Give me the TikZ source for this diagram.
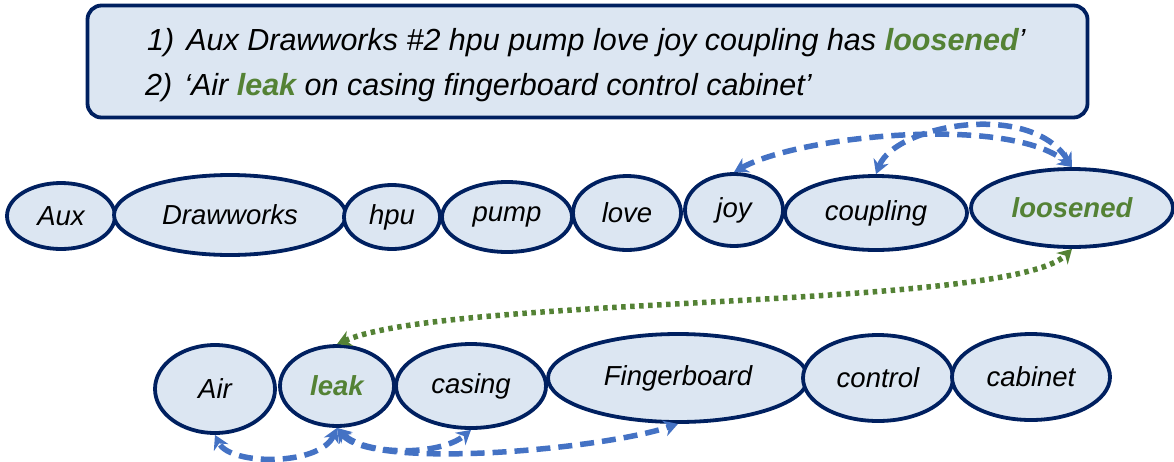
\documentclass[tikz,border=0pt]{standalone}
\usepackage{fontspec}
\setmainfont{Liberation Sans}
\usetikzlibrary{arrows.meta,shapes.geometric}
\definecolor{boxfill}{HTML}{DCE6F2}
\definecolor{navy}{HTML}{002060}
\definecolor{arcblue}{HTML}{4472C4}
\definecolor{leafgreen}{HTML}{548235}

\begin{document}
\begin{tikzpicture}[x=1pt,y=-1pt,
  >={Stealth[length=14pt,width=16pt]},
  word/.style={ellipse, draw=navy, line width=3.8pt, fill=boxfill, inner sep=0pt,
    font=\fontsize{27.5}{30}\selectfont\itshape},
  key/.style={font=\fontsize{27.5}{30}\selectfont\bfseries\itshape, text=leafgreen},
  dep/.style={arcblue, line width=5.5pt, dash pattern=on 14pt off 8pt, <->},
  crosslink/.style={leafgreen, line width=5.5pt, dash pattern=on 4.5pt off 4.5pt, <->},
  sentence/.style={anchor=base west, inner sep=0pt, font=\fontsize{30.5}{34}\selectfont\itshape}
]
\useasboundingbox (0,0) rectangle (1174,461);

% sentence box
\node (box) [draw=navy, line width=3.8pt, fill=boxfill, rounded corners=14pt,
  minimum width=1000pt, minimum height=112pt, inner sep=0pt] at (587.5,61.5) {};
\node[sentence] (s1) at (147,50) {1)\hspace{12pt}Aux Drawworks \#2 hpu pump love joy coupling has \textcolor{leafgreen}{\textbf{loosened}}’};
\node[sentence] (s2) at (145,95) {2)\hspace{12pt}‘Air \textcolor{leafgreen}{\textbf{leak}} on casing fingerboard control cabinet’};

% first sentence tokens
\node[word, minimum width=108pt, minimum height=66pt] (aux) at (61,216) {Aux};
\node[word, minimum width=232pt, minimum height=80pt] (draw) at (230,215) {Drawworks};
\node[word, minimum width=96pt, minimum height=64pt] (hpu) at (392,217) {hpu};
\node[word, minimum width=130pt, minimum height=70pt] (pump) at (507,217) {pump};
\node[word, minimum width=108pt, minimum height=74pt] (love) at (627,213) {love};
\node[word, minimum width=98pt, minimum height=72pt] (joy) at (734,210) {joy};
\node[word, minimum width=182pt, minimum height=74pt] (coupling) at (876,213) {coupling};
\node[word, key, minimum width=202pt, minimum height=78pt] (loosened) at (1072,208) {loosened};

% second sentence tokens
\node[word, minimum width=120pt, minimum height=88pt] (air) at (215,389) {Air};
\node[word, key, minimum width=114pt, minimum height=80pt] (leak) at (337,386) {leak};
\node[word, minimum width=150pt, minimum height=84pt] (casing) at (471,386) {casing};
\node[word, minimum width=260pt, minimum height=88pt] (finger) at (678,378) {Fingerboard};
\node[word, minimum width=150pt, minimum height=86pt] (control) at (878,378) {control};
\node[word, minimum width=158pt, minimum height=86pt] (cabinet) at (1031,377) {cabinet};

% dependency arcs
\draw[dep] (joy.north) .. controls (800,135) and (1010,115) .. (loosened.north);
\draw[dep] (coupling.north) .. controls (895,125) and (1030,100) .. (loosened.north);
\draw[dep] (leak.south) .. controls (320,466) and (230,466) .. (air.south);
\draw[dep] (leak.south) .. controls (365,456) and (440,456) .. (casing.south);
\draw[dep] (leak.south) .. controls (370,470) and (600,450) .. (finger.south);

% link between the two key words
\draw[crosslink] (leak.north) .. controls (450,295) and (1010,310) .. (loosened.south);
\end{tikzpicture}
\end{document}
